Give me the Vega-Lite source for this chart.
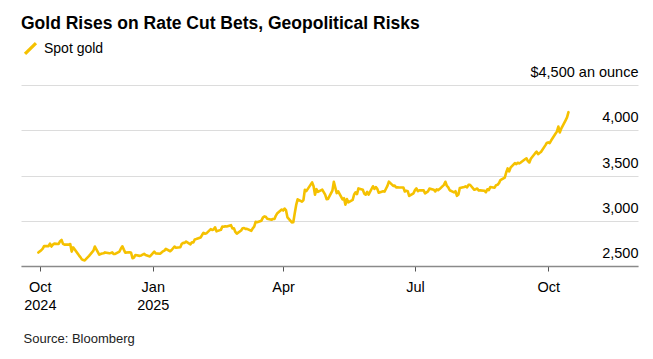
{
  "$schema": "https://vega.github.io/schema/vega-lite/v6.json",
  "width": 617,
  "height": 181,
  "autosize": "none",
  "padding": {"left": 21, "top": 85, "right": 15, "bottom": 93},
  "background": "white",
  "title": {
    "text": "Gold Rises on Rate Cut Bets, Geopolitical Risks",
    "anchor": "start",
    "frame": "group",
    "font": "Liberation Sans",
    "fontSize": 17.5,
    "fontWeight": "bold",
    "color": "#000000",
    "baseline": "alphabetic",
    "offset": -5
  },
  "data": {
    "values": [
      {"date": "2024-10-14", "price": 2649},
      {"date": "2024-10-15", "price": 2662},
      {"date": "2024-10-16", "price": 2674},
      {"date": "2024-10-17", "price": 2692},
      {"date": "2024-10-18", "price": 2721},
      {"date": "2024-10-21", "price": 2720},
      {"date": "2024-10-22", "price": 2748},
      {"date": "2024-10-23", "price": 2715},
      {"date": "2024-10-24", "price": 2736},
      {"date": "2024-10-25", "price": 2747},
      {"date": "2024-10-28", "price": 2743},
      {"date": "2024-10-29", "price": 2774},
      {"date": "2024-10-30", "price": 2788},
      {"date": "2024-10-31", "price": 2744},
      {"date": "2024-11-01", "price": 2736},
      {"date": "2024-11-04", "price": 2736},
      {"date": "2024-11-05", "price": 2743},
      {"date": "2024-11-06", "price": 2659},
      {"date": "2024-11-07", "price": 2706},
      {"date": "2024-11-08", "price": 2685},
      {"date": "2024-11-11", "price": 2618},
      {"date": "2024-11-12", "price": 2598},
      {"date": "2024-11-13", "price": 2573},
      {"date": "2024-11-14", "price": 2566},
      {"date": "2024-11-15", "price": 2562},
      {"date": "2024-11-18", "price": 2612},
      {"date": "2024-11-19", "price": 2631},
      {"date": "2024-11-20", "price": 2651},
      {"date": "2024-11-21", "price": 2670},
      {"date": "2024-11-22", "price": 2715},
      {"date": "2024-11-25", "price": 2625},
      {"date": "2024-11-26", "price": 2633},
      {"date": "2024-11-27", "price": 2638},
      {"date": "2024-11-28", "price": 2640},
      {"date": "2024-11-29", "price": 2650},
      {"date": "2024-12-02", "price": 2640},
      {"date": "2024-12-03", "price": 2643},
      {"date": "2024-12-04", "price": 2650},
      {"date": "2024-12-05", "price": 2632},
      {"date": "2024-12-06", "price": 2633},
      {"date": "2024-12-09", "price": 2660},
      {"date": "2024-12-10", "price": 2694},
      {"date": "2024-12-11", "price": 2718},
      {"date": "2024-12-12", "price": 2681},
      {"date": "2024-12-13", "price": 2648},
      {"date": "2024-12-16", "price": 2652},
      {"date": "2024-12-17", "price": 2646},
      {"date": "2024-12-18", "price": 2586},
      {"date": "2024-12-19", "price": 2594},
      {"date": "2024-12-20", "price": 2622},
      {"date": "2024-12-23", "price": 2612},
      {"date": "2024-12-24", "price": 2617},
      {"date": "2024-12-26", "price": 2634},
      {"date": "2024-12-27", "price": 2621},
      {"date": "2024-12-30", "price": 2606},
      {"date": "2024-12-31", "price": 2624},
      {"date": "2025-01-02", "price": 2658},
      {"date": "2025-01-03", "price": 2640},
      {"date": "2025-01-06", "price": 2636},
      {"date": "2025-01-07", "price": 2648},
      {"date": "2025-01-08", "price": 2662},
      {"date": "2025-01-09", "price": 2670},
      {"date": "2025-01-10", "price": 2690},
      {"date": "2025-01-13", "price": 2663},
      {"date": "2025-01-14", "price": 2677},
      {"date": "2025-01-15", "price": 2696},
      {"date": "2025-01-16", "price": 2715},
      {"date": "2025-01-17", "price": 2702},
      {"date": "2025-01-20", "price": 2708},
      {"date": "2025-01-21", "price": 2745},
      {"date": "2025-01-22", "price": 2755},
      {"date": "2025-01-23", "price": 2755},
      {"date": "2025-01-24", "price": 2770},
      {"date": "2025-01-27", "price": 2740},
      {"date": "2025-01-28", "price": 2763},
      {"date": "2025-01-29", "price": 2760},
      {"date": "2025-01-30", "price": 2794},
      {"date": "2025-01-31", "price": 2798},
      {"date": "2025-02-03", "price": 2815},
      {"date": "2025-02-04", "price": 2842},
      {"date": "2025-02-05", "price": 2867},
      {"date": "2025-02-06", "price": 2856},
      {"date": "2025-02-07", "price": 2861},
      {"date": "2025-02-10", "price": 2908},
      {"date": "2025-02-11", "price": 2898},
      {"date": "2025-02-12", "price": 2903},
      {"date": "2025-02-13", "price": 2928},
      {"date": "2025-02-14", "price": 2883},
      {"date": "2025-02-17", "price": 2899},
      {"date": "2025-02-18", "price": 2935},
      {"date": "2025-02-19", "price": 2933},
      {"date": "2025-02-20", "price": 2939},
      {"date": "2025-02-21", "price": 2936},
      {"date": "2025-02-24", "price": 2951},
      {"date": "2025-02-25", "price": 2915},
      {"date": "2025-02-26", "price": 2916},
      {"date": "2025-02-27", "price": 2876},
      {"date": "2025-02-28", "price": 2858},
      {"date": "2025-03-03", "price": 2893},
      {"date": "2025-03-04", "price": 2918},
      {"date": "2025-03-05", "price": 2920},
      {"date": "2025-03-06", "price": 2910},
      {"date": "2025-03-07", "price": 2910},
      {"date": "2025-03-10", "price": 2889},
      {"date": "2025-03-11", "price": 2916},
      {"date": "2025-03-12", "price": 2934},
      {"date": "2025-03-13", "price": 2988},
      {"date": "2025-03-14", "price": 2984},
      {"date": "2025-03-17", "price": 3001},
      {"date": "2025-03-18", "price": 3035},
      {"date": "2025-03-19", "price": 3048},
      {"date": "2025-03-20", "price": 3044},
      {"date": "2025-03-21", "price": 3023},
      {"date": "2025-03-24", "price": 3011},
      {"date": "2025-03-25", "price": 3020},
      {"date": "2025-03-26", "price": 3019},
      {"date": "2025-03-27", "price": 3057},
      {"date": "2025-03-28", "price": 3084},
      {"date": "2025-03-31", "price": 3124},
      {"date": "2025-04-01", "price": 3113},
      {"date": "2025-04-02", "price": 3134},
      {"date": "2025-04-03", "price": 3114},
      {"date": "2025-04-04", "price": 3037},
      {"date": "2025-04-07", "price": 2982},
      {"date": "2025-04-08", "price": 2983},
      {"date": "2025-04-09", "price": 3082},
      {"date": "2025-04-10", "price": 3175},
      {"date": "2025-04-11", "price": 3237},
      {"date": "2025-04-14", "price": 3211},
      {"date": "2025-04-15", "price": 3229},
      {"date": "2025-04-16", "price": 3343},
      {"date": "2025-04-17", "price": 3327},
      {"date": "2025-04-21", "price": 3424},
      {"date": "2025-04-22", "price": 3381},
      {"date": "2025-04-23", "price": 3288},
      {"date": "2025-04-24", "price": 3349},
      {"date": "2025-04-25", "price": 3319},
      {"date": "2025-04-28", "price": 3343},
      {"date": "2025-04-29", "price": 3316},
      {"date": "2025-04-30", "price": 3288},
      {"date": "2025-05-01", "price": 3239},
      {"date": "2025-05-02", "price": 3241},
      {"date": "2025-05-05", "price": 3333},
      {"date": "2025-05-06", "price": 3431},
      {"date": "2025-05-07", "price": 3366},
      {"date": "2025-05-08", "price": 3306},
      {"date": "2025-05-09", "price": 3325},
      {"date": "2025-05-12", "price": 3237},
      {"date": "2025-05-13", "price": 3249},
      {"date": "2025-05-14", "price": 3177},
      {"date": "2025-05-15", "price": 3240},
      {"date": "2025-05-16", "price": 3203},
      {"date": "2025-05-19", "price": 3230},
      {"date": "2025-05-20", "price": 3290},
      {"date": "2025-05-21", "price": 3314},
      {"date": "2025-05-22", "price": 3295},
      {"date": "2025-05-23", "price": 3357},
      {"date": "2025-05-26", "price": 3342},
      {"date": "2025-05-27", "price": 3300},
      {"date": "2025-05-28", "price": 3288},
      {"date": "2025-05-29", "price": 3318},
      {"date": "2025-05-30", "price": 3289},
      {"date": "2025-06-02", "price": 3381},
      {"date": "2025-06-03", "price": 3353},
      {"date": "2025-06-04", "price": 3372},
      {"date": "2025-06-05", "price": 3352},
      {"date": "2025-06-06", "price": 3310},
      {"date": "2025-06-09", "price": 3326},
      {"date": "2025-06-10", "price": 3322},
      {"date": "2025-06-11", "price": 3354},
      {"date": "2025-06-12", "price": 3385},
      {"date": "2025-06-13", "price": 3432},
      {"date": "2025-06-16", "price": 3385},
      {"date": "2025-06-17", "price": 3388},
      {"date": "2025-06-18", "price": 3369},
      {"date": "2025-06-19", "price": 3370},
      {"date": "2025-06-20", "price": 3368},
      {"date": "2025-06-23", "price": 3368},
      {"date": "2025-06-24", "price": 3323},
      {"date": "2025-06-25", "price": 3332},
      {"date": "2025-06-26", "price": 3327},
      {"date": "2025-06-27", "price": 3274},
      {"date": "2025-06-30", "price": 3303},
      {"date": "2025-07-01", "price": 3338},
      {"date": "2025-07-02", "price": 3357},
      {"date": "2025-07-03", "price": 3326},
      {"date": "2025-07-04", "price": 3337},
      {"date": "2025-07-07", "price": 3336},
      {"date": "2025-07-08", "price": 3302},
      {"date": "2025-07-09", "price": 3313},
      {"date": "2025-07-10", "price": 3324},
      {"date": "2025-07-11", "price": 3355},
      {"date": "2025-07-14", "price": 3343},
      {"date": "2025-07-15", "price": 3324},
      {"date": "2025-07-16", "price": 3347},
      {"date": "2025-07-17", "price": 3338},
      {"date": "2025-07-18", "price": 3350},
      {"date": "2025-07-21", "price": 3397},
      {"date": "2025-07-22", "price": 3431},
      {"date": "2025-07-23", "price": 3387},
      {"date": "2025-07-24", "price": 3368},
      {"date": "2025-07-25", "price": 3337},
      {"date": "2025-07-28", "price": 3314},
      {"date": "2025-07-29", "price": 3326},
      {"date": "2025-07-30", "price": 3275},
      {"date": "2025-07-31", "price": 3289},
      {"date": "2025-08-01", "price": 3363},
      {"date": "2025-08-04", "price": 3373},
      {"date": "2025-08-05", "price": 3380},
      {"date": "2025-08-06", "price": 3369},
      {"date": "2025-08-07", "price": 3397},
      {"date": "2025-08-08", "price": 3398},
      {"date": "2025-08-11", "price": 3342},
      {"date": "2025-08-12", "price": 3348},
      {"date": "2025-08-13", "price": 3356},
      {"date": "2025-08-14", "price": 3335},
      {"date": "2025-08-15", "price": 3336},
      {"date": "2025-08-18", "price": 3332},
      {"date": "2025-08-19", "price": 3315},
      {"date": "2025-08-20", "price": 3348},
      {"date": "2025-08-21", "price": 3339},
      {"date": "2025-08-22", "price": 3372},
      {"date": "2025-08-25", "price": 3365},
      {"date": "2025-08-26", "price": 3393},
      {"date": "2025-08-27", "price": 3397},
      {"date": "2025-08-28", "price": 3416},
      {"date": "2025-08-29", "price": 3448},
      {"date": "2025-09-01", "price": 3477},
      {"date": "2025-09-02", "price": 3533},
      {"date": "2025-09-03", "price": 3578},
      {"date": "2025-09-04", "price": 3545},
      {"date": "2025-09-05", "price": 3586},
      {"date": "2025-09-08", "price": 3637},
      {"date": "2025-09-09", "price": 3625},
      {"date": "2025-09-10", "price": 3641},
      {"date": "2025-09-11", "price": 3634},
      {"date": "2025-09-12", "price": 3643},
      {"date": "2025-09-15", "price": 3679},
      {"date": "2025-09-16", "price": 3690},
      {"date": "2025-09-17", "price": 3660},
      {"date": "2025-09-18", "price": 3644},
      {"date": "2025-09-19", "price": 3685},
      {"date": "2025-09-22", "price": 3746},
      {"date": "2025-09-23", "price": 3764},
      {"date": "2025-09-24", "price": 3736},
      {"date": "2025-09-25", "price": 3749},
      {"date": "2025-09-26", "price": 3760},
      {"date": "2025-09-29", "price": 3833},
      {"date": "2025-09-30", "price": 3859},
      {"date": "2025-10-01", "price": 3866},
      {"date": "2025-10-02", "price": 3857},
      {"date": "2025-10-03", "price": 3886},
      {"date": "2025-10-06", "price": 3961},
      {"date": "2025-10-07", "price": 3985},
      {"date": "2025-10-08", "price": 4041},
      {"date": "2025-10-09", "price": 3976},
      {"date": "2025-10-10", "price": 4018},
      {"date": "2025-10-13", "price": 4110},
      {"date": "2025-10-14", "price": 4142},
      {"date": "2025-10-15", "price": 4200}
    ]
  },
  "mark": {"type": "line", "strokeWidth": 2.6, "strokeJoin": "round", "strokeCap": "round"},
  "encoding": {
    "x": {
      "field": "date",
      "type": "temporal",
      "scale": {
        "type": "utc",
        "domain": [
          {"year": 2024, "month": 10, "date": 2, "utc": true},
          {"year": 2025, "month": 12, "date": 2, "utc": true}
        ]
      },
      "axis": {
        "values": [
          {"year": 2024, "month": 10, "date": 15, "utc": true},
          {"year": 2025, "month": 1, "date": 1, "utc": true},
          {"year": 2025, "month": 4, "date": 1, "utc": true},
          {"year": 2025, "month": 7, "date": 1, "utc": true},
          {"year": 2025, "month": 10, "date": 1, "utc": true}
        ],
        "labelExpr": "utcyear(datum.value) == 2024 ? ['Oct', '2024'] : utcmonth(datum.value) == 0 ? ['Jan', '2025'] : utcFormat(datum.value, '%b')",
        "grid": false,
        "domainColor": "#8a8a8a",
        "domainWidth": 1.6,
        "tickColor": "#555555",
        "tickSize": 5,
        "tickWidth": 1,
        "labelFont": "Liberation Sans",
        "labelFontSize": 14.5,
        "labelColor": "#000000",
        "labelBaseline": "alphabetic",
        "labelPadding": 20,
        "labelLineHeight": 18,
        "labelFlush": false,
        "labelOverlap": false,
        "labelBound": false,
        "title": "Source: Bloomberg",
        "titleFont": "Liberation Sans",
        "titleFontSize": 13,
        "titleFontWeight": "normal",
        "titleColor": "#222222",
        "titleAnchor": "start",
        "titleAlign": "left",
        "titleBaseline": "alphabetic",
        "titleX": 2,
        "titleY": 76
      }
    },
    "y": {
      "field": "price",
      "type": "quantitative",
      "scale": {"domain": [2500, 4500], "nice": false, "zero": false},
      "axis": {
        "orient": "right",
        "values": [2500, 3000, 3500, 4000, 4500],
        "labelExpr": "datum.value == 4500 ? '$4,500 an ounce' : format(datum.value, ',')",
        "title": null,
        "grid": true,
        "gridColor": "#dcdcdc",
        "gridWidth": 1,
        "domain": false,
        "ticks": false,
        "tickSize": 0,
        "labelAlign": "right",
        "labelBaseline": "alphabetic",
        "labelPadding": 0,
        "labelOffset": -8.5,
        "labelFont": "Liberation Sans",
        "labelFontSize": 14.5,
        "labelColor": "#000000",
        "labelFlush": false,
        "labelOverlap": false,
        "labelBound": false
      }
    },
    "color": {
      "datum": "Spot gold",
      "scale": {"range": ["#f5c100"]},
      "legend": {
        "title": null,
        "orient": "none",
        "legendX": 2,
        "legendY": -44,
        "symbolType": "M-1,1L1,-1",
        "symbolStrokeWidth": 3.2,
        "symbolSize": 120,
        "symbolStrokeColor": "#f5c100",
        "labelFont": "Liberation Sans",
        "labelFontSize": 14,
        "labelColor": "#000000",
        "labelOffset": 6,
        "padding": 0
      }
    }
  },
  "config": {
    "view": {"stroke": null}
  }
}
